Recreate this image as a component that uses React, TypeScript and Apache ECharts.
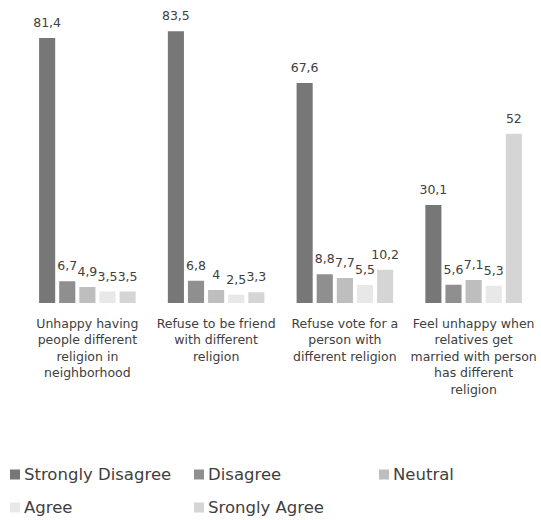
import React, { useEffect, useRef } from "react";
import * as echarts from "echarts";

const categories = [
  "Unhappy having\npeople different\nreligion in\nneighborhood",
  "Refuse to be friend\nwith different\nreligion",
  "Refuse vote for a\nperson with\ndifferent religion",
  "Feel unhappy when\nrelatives get\nmarried with person\nhas different\nreligion",
];

const seriesNames = ["Strongly Disagree", "Disagree", "Neutral", "Agree", "Srongly Agree"];

const stronglyDisagree = [81.4, 83.5, 67.6, 30.1];
const disagree = [6.7, 6.8, 8.8, 5.6];
const neutral = [4.9, 4, 7.7, 7.1];
const agree = [3.5, 2.5, 5.5, 5.3];
const stronglyAgree = [3.5, 3.3, 10.2, 52];

const seriesValues = [stronglyDisagree, disagree, neutral, agree, stronglyAgree];
const colors = ["#777777", "#8f8f8f", "#bebebe", "#e8e8e8", "#d5d5d5"];

const FONT = "DejaVu Sans";
const TEXT = "#404040";

export default function App() {
  const ref = useRef<HTMLDivElement>(null);

  useEffect(() => {
    if (!ref.current) return;
    const chart = echarts.init(ref.current, undefined, { renderer: "svg" });

    // legend laid out as a fixed three-column grid
    const legendSlots = [
      { left: 10, top: 466 },
      { left: 194, top: 466 },
      { left: 379, top: 466 },
      { left: 10, top: 499 },
      { left: 194, top: 499 },
    ];

    chart.setOption({
      animation: false,
      textStyle: { fontFamily: FONT },
      grid: { left: 23, right: 3, top: 10, bottom: 217 },
      xAxis: {
        type: "category",
        data: categories,
        axisLine: { show: false },
        axisTick: { show: false },
        axisLabel: {
          color: TEXT,
          fontSize: 12.5,
          lineHeight: 16.5,
          margin: 12,
          interval: 0,
          fontFamily: FONT,
        },
      },
      yAxis: {
        type: "value",
        min: 0,
        max: 90,
        show: false,
        splitLine: { show: false },
      },
      legend: legendSlots.map((slot, i) => ({
        data: [seriesNames[i]],
        left: slot.left,
        top: slot.top,
        padding: 0,
        itemWidth: 10,
        itemHeight: 10,
        icon: "rect",
        itemGap: 0,
        textStyle: { color: TEXT, fontSize: 16.5, fontFamily: FONT, padding: [0, 0, 0, -1] },
      })),
      series: seriesNames.map((name, i) => ({
        name,
        type: "bar",
        data: seriesValues[i],
        barGap: "25%",
        barCategoryGap: "25%",
        itemStyle: { color: colors[i] },
        label: {
          show: true,
          position: "top",
          distance: 9,
          color: TEXT,
          fontSize: 12.5,
          fontFamily: FONT,
          formatter: (p: any) => String(p.value).replace(".", ","),
        },
      })),
    });

    return () => chart.dispose();
  }, []);

  return <div ref={ref} style={{ width: 541, height: 520, position: "absolute", left: 0, top: 0 }} />;
}
